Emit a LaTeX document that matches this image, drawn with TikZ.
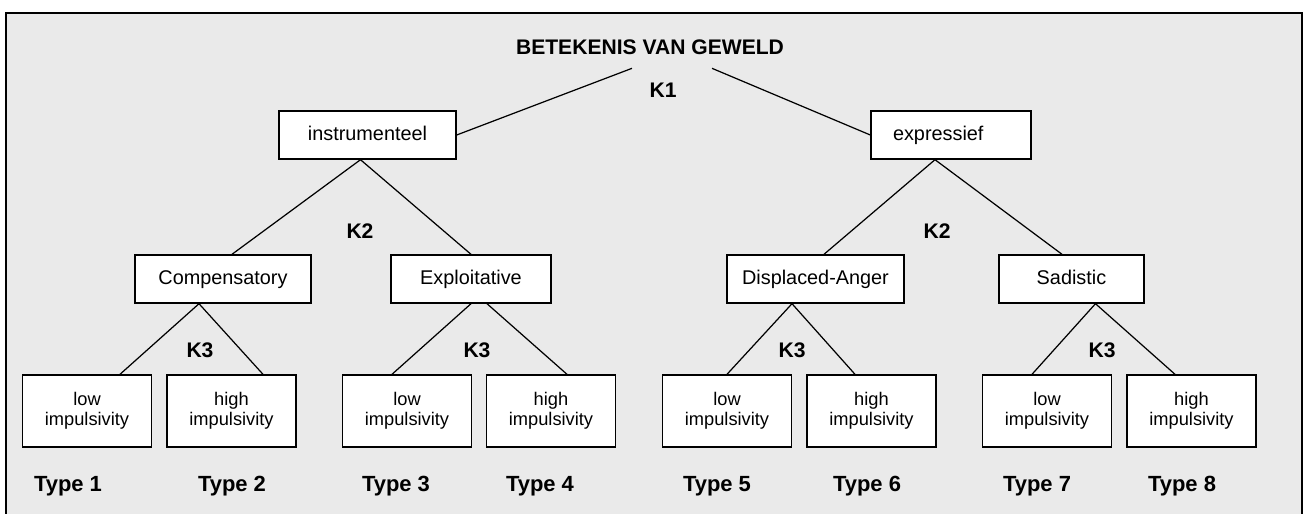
\documentclass[tikz,border=0pt]{standalone}
\usepackage{fontspec}
\setmainfont{Liberation Sans}
\usepackage{tikz}
\usetikzlibrary{positioning}
\definecolor{bggray}{RGB}{234,234,234}
\tikzstyle{line} = [draw,line width=0.7pt]

\begin{document}
\begin{tikzpicture}[x=0.02cm,y=-0.02cm,
                klasse/.style = {rectangle, draw, fill=white, line width=0.8pt,
                  minimum height=0.96cm, inner sep=0pt, text height=8.2pt, text depth=2.4pt,
                  font=\fontsize{11.3}{13}\selectfont},
                subtype/.style = {rectangle, draw, fill=white, line width=0.8pt,
                  minimum width=2.58cm, minimum height=1.44cm, inner sep=0pt,
                  align=center, font=\fontsize{10.4}{11.4}\selectfont},
                crit/.style = {inner sep=0pt, font=\bfseries\fontsize{12}{14}\selectfont},
                typelbl/.style = {inner sep=0pt, font=\bfseries\fontsize{12.5}{14}\selectfont}]
                \useasboundingbox (0,0) rectangle (1303,514);
                % frame
                \fill[bggray] (6,13) rectangle (1302,520);
                \draw[line width=0.8pt] (6,520) -- (6,13) -- (1302,13) -- (1302,520);
                % top
                \node[crit, inner ysep=0.26cm] (title) at (650,47.5) {BETEKENIS VAN GEWELD};
                \node[crit] (k1) at (663,90) {K1};
                \node[klasse, minimum width=3.54cm] (inst) at (367.5,135) {instrumenteel};
                \node[klasse, inner xsep=0.44cm, text width=2.32cm, align=left] (expr) at (951,135) {expressief};
                \path[line] ([xshift=-0.36cm]title.south) -- (inst.east);
                \path[line] ([xshift=1.24cm]title.south) -- (expr.west);
                % second level
                \node[klasse, minimum width=3.52cm] (comp) at (223,279) {Compensatory};
                \node[klasse, minimum width=3.2cm] (expl) at (471,279) {Exploitative};
                \node[klasse, minimum width=3.54cm] (disp) at (815.5,279) {Displaced-Anger};
                \node[klasse, minimum width=2.9cm] (sad) at (1071.5,279) {Sadistic};
                \node[crit] (k2a) at (360,231) {K2};
                \node[crit] (k2b) at (937,231) {K2};
                \path[line] ([xshift=-0.14cm]inst.south) -- ([xshift=0.18cm]comp.north);
                \path[line] ([xshift=-0.14cm]inst.south) -- (expl.north);
                \path[line] ([xshift=-0.32cm]expr.south) -- ([xshift=0.17cm]disp.north);
                \path[line] ([xshift=-0.32cm]expr.south) -- ([xshift=-0.19cm]sad.north);
                % impulsivity
                \node[subtype] (low1) at (87,411) {low\\impulsivity};
                \node[subtype] (high1) at (231.5,411) {high\\impulsivity};
                \node[subtype] (low2) at (407,411) {low\\impulsivity};
                \node[subtype] (high2) at (551,411) {high\\impulsivity};
                \node[subtype] (low3) at (727,411) {low\\impulsivity};
                \node[subtype] (high3) at (871.5,411) {high\\impulsivity};
                \node[subtype] (low4) at (1047,411) {low\\impulsivity};
                \node[subtype] (high4) at (1191.5,411) {high\\impulsivity};
                \node[crit] (k3a) at (200,350) {K3};
                \node[crit] (k3b) at (477,350) {K3};
                \node[crit] (k3c) at (792,350) {K3};
                \node[crit] (k3d) at (1102,350) {K3};
                \path[line] ([xshift=-0.48cm]comp.south) -- ([xshift=0.66cm]low1.north);
                \path[line] ([xshift=-0.48cm]comp.south) -- ([xshift=0.63cm]high1.north);
                \path[line] (expl.south) -- ([xshift=-0.3cm]low2.north);
                \path[line] ([xshift=0.32cm]expl.south) -- ([xshift=0.32cm]high2.north);
                \path[line] ([xshift=-0.47cm]disp.south) -- (low3.north);
                \path[line] ([xshift=-0.47cm]disp.south) -- ([xshift=-0.33cm]high3.north);
                \path[line] ([xshift=0.48cm]sad.south) -- ([xshift=-0.3cm]low4.north);
                \path[line] ([xshift=0.48cm]sad.south) -- ([xshift=-0.33cm]high4.north);
                % types
                \node[typelbl] (type1) at (68,486) {Type 1};
                \node[typelbl] (type2) at (232,486) {Type 2};
                \node[typelbl] (type3) at (396,486) {Type 3};
                \node[typelbl] (type4) at (540,486) {Type 4};
                \node[typelbl] (type5) at (717,486) {Type 5};
                \node[typelbl] (type6) at (867,486) {Type 6};
                \node[typelbl] (type7) at (1037,486) {Type 7};
                \node[typelbl] (type8) at (1182,486) {Type 8};
\end{tikzpicture}
\end{document}
